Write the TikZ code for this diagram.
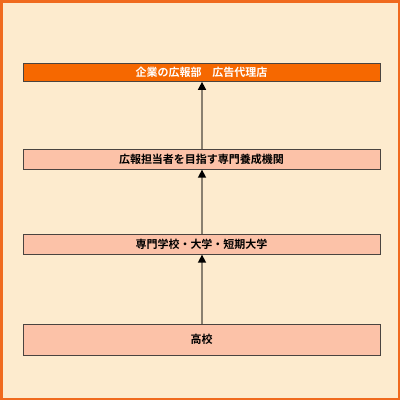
\documentclass[tikz,border=0pt]{standalone}
\usepackage{fontspec}
\newfontfamily\jp{Noto Sans CJK JP Bold}
\usetikzlibrary{arrows.meta}
\definecolor{bgc}{HTML}{FDEBCE}
\definecolor{framec}{HTML}{F06A1E}
\definecolor{topc}{HTML}{F66800}
\definecolor{boxc}{HTML}{FCC2A8}
\definecolor{edgec}{HTML}{4A4440}
\definecolor{linec}{HTML}{8A8070}
\tikzset{
  box/.style={draw=edgec, line width=0.8pt, minimum width=357pt, inner sep=0pt, font=\jp\fontsize{11pt}{11pt}\selectfont, text=black},
  conn/.style={draw=linec, line width=1.5pt, -{Triangle[length=8pt,width=8pt,color=black]}, shorten >=0pt}
}
\begin{document}
\begin{tikzpicture}[x=1pt,y=-1pt]
\useasboundingbox (0,0) rectangle (400,400);
\fill[bgc] (0,0) rectangle (400,400);
\draw[framec, line width=2.5pt] (1.25,1.25) rectangle (398.75,398.75);
\node[box, fill=topc, text=white, minimum height=18.5pt] (a) at (201.5,72.2) {企業の広報部　広告代理店};
\node[box, fill=boxc, minimum height=19.5pt] (b) at (201.5,159.5) {広報担当者を目指す専門養成機関};
\node[box, fill=boxc, minimum height=19.5pt] (c) at (201.5,244.5) {専門学校・大学・短期大学};
\node[box, fill=boxc, minimum height=31pt] (d) at (201.5,339.7) {高校};
\draw[conn] (d.north -| 202,0) -- (c.south -| 202,0);
\draw[conn] (c.north -| 202,0) -- (b.south -| 202,0);
\draw[conn] (b.north -| 202,0) -- (a.south -| 202,0);
\end{tikzpicture}
\end{document}
